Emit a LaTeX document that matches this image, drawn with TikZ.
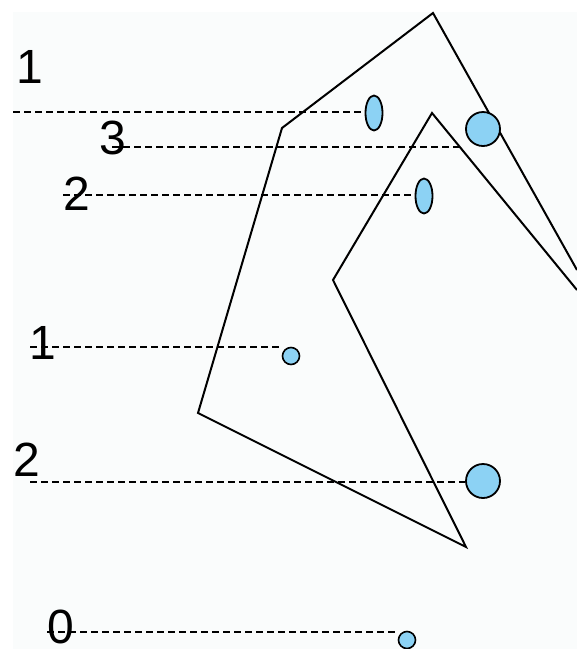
\documentclass[tikz,border=0pt]{standalone}
\usepackage{fontspec}
\setmainfont{Liberation Sans}
\usetikzlibrary{shapes.geometric}
\definecolor{bgc}{RGB}{250,252,252}
\definecolor{dotc}{RGB}{140,210,244}
\begin{document}
\begin{tikzpicture}[x=1pt,y=-1pt,
  lab/.style={inner sep=0pt,font=\fontsize{48}{48}\selectfont},
  guide/.style={draw=black,line width=1.7pt,dash pattern=on 7pt off 4pt},
  shapeline/.style={draw=black,line width=2pt,line join=miter},
  oval/.style={ellipse,draw=black,fill=dotc,line width=1.8pt,inner sep=0pt,minimum width=17pt,minimum height=35pt},
  bigdot/.style={circle,draw=black,fill=dotc,line width=1.8pt,inner sep=0pt,minimum size=34pt},
  smalldot/.style={circle,draw=black,fill=dotc,line width=1.6pt,inner sep=0pt,minimum size=17pt}]
\useasboundingbox (0,0) rectangle (577,649);
\fill[bgc] (13,12) rectangle (577,649);
\begin{scope}
\clip (0,0) rectangle (577,649);
% outline
\coordinate (tip) at (466,547);
\coordinate (olow) at (198,413);
\coordinate (oup) at (282,128);
\coordinate (oapex) at (433,13);
\coordinate (oend) at (577,270);
\coordinate (iapex) at (432,113);
\coordinate (ileft) at (333,280);
\coordinate (iend) at (577,290);
\draw[shapeline] (oend) -- (oapex) -- (oup) -- (olow) -- (tip) -- (ileft) -- (iapex) -- (iend);
% dots
\node[oval] (e1) at (374,113) {};
\node[oval] (e2) at (424,196) {};
\node[bigdot] (c1) at (483,129) {};
\node[smalldot] (c2) at (291,356) {};
\node[bigdot] (c3) at (483,481) {};
\node[smalldot] (c4) at (407,640) {};
% labels
\node[lab] (l1) at (30,67) {1};
\node[lab] (l3) at (113,138) {3};
\node[lab] (l2) at (77,194) {2};
\node[lab] (l1b) at (43,343) {1};
\node[lab] (l2b) at (27,460) {2};
\node[lab] (l0) at (61,627) {0};
% guide lines
\coordinate (s1) at (13,112);
\coordinate (s3) at (112,147);
\coordinate (t3) at (460,147);
\coordinate (s2) at (63,195);
\coordinate (s1b) at (30,347);
\coordinate (t1b) at (281,347);
\coordinate (s2b) at (30,482);
\coordinate (s0) at (47,632);
\coordinate (t0) at (396,632);
\draw[guide] (s1) -- (e1.west |- s1);
\draw[guide] (s3) -- (t3);
\draw[guide] (s2) -- (e2.west |- s2);
\draw[guide] (s1b) -- (t1b);
\draw[guide] (s2b) -- (c3.west |- s2b);
\draw[guide] (s0) -- (t0);
\end{scope}
\end{tikzpicture}
\end{document}
